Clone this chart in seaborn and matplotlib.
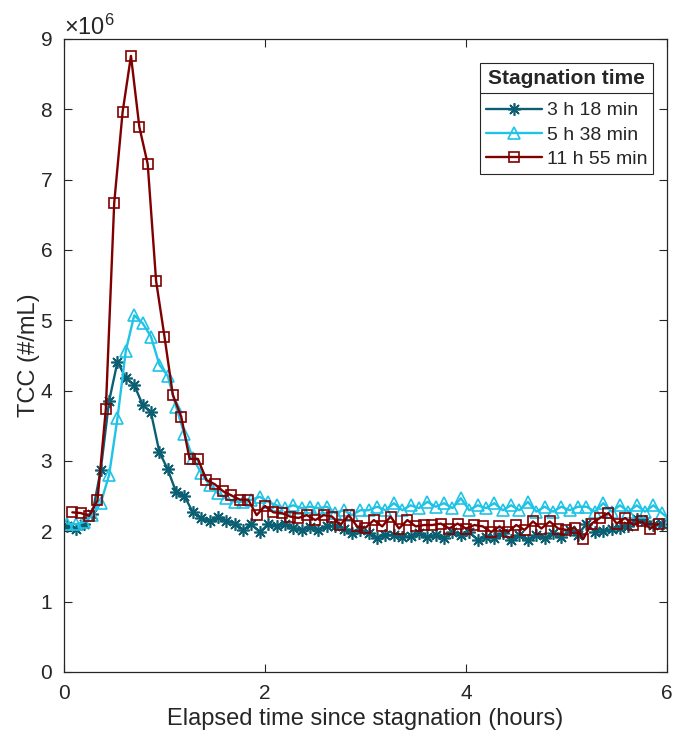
import numpy as np
import pandas as pd
import seaborn as sns
import matplotlib.pyplot as plt
from matplotlib.lines import Line2D

# TCC values in units of 1e6 cells/mL, sampled every 5 min
tcc_3h18 = [2.08, 2.03, 2.10, 2.25, 2.87, 3.85, 4.41, 4.18, 4.08, 3.80,
            3.69, 3.13, 2.88, 2.56, 2.50, 2.27, 2.19, 2.14, 2.20, 2.15,
            2.11, 2.02, 2.10, 1.99, 2.10, 2.08, 2.11, 2.05, 2.02, 2.06,
            2.02, 2.07, 2.08, 2.04, 1.98, 2.02, 1.97, 1.91, 1.95, 1.95,
            1.92, 1.93, 1.97, 1.92, 1.95, 1.90, 1.99, 1.95, 1.99, 1.88,
            1.92, 1.90, 1.97, 1.87, 1.95, 1.88, 1.95, 1.90, 1.97, 1.92,
            2.02, 1.95, 2.11, 1.99, 2.00, 2.03, 2.05, 2.08, 2.18, 2.14,
            2.09, 2.11]
tcc_5h38 = [2.11, 2.10, 2.13, 2.23, 2.40, 2.80, 3.61, 4.57, 5.07, 4.96,
            4.77, 4.37, 4.21, 3.77, 3.38, 3.04, 2.83, 2.66, 2.54, 2.47,
            2.42, 2.42, 2.45,
            2.49, 2.42, 2.37, 2.33, 2.37, 2.33, 2.35, 2.33, 2.35, 2.26,
            2.30, 2.23, 2.30, 2.30, 2.35, 2.30, 2.40, 2.30, 2.37, 2.33,
            2.42, 2.35, 2.40, 2.33, 2.47, 2.30, 2.37, 2.33, 2.40, 2.30,
            2.37, 2.30, 2.42, 2.28, 2.35, 2.28, 2.35, 2.30, 2.35, 2.35,
            2.28, 2.40, 2.28, 2.37, 2.28, 2.37, 2.28, 2.37, 2.26, 2.16]
tcc_11h55 = [2.27, 2.26, 2.22, 2.44, 3.74, 6.67, 7.96, 8.76, 7.75, 7.22,
             5.56, 4.77, 3.94, 3.63, 3.03, 3.03, 2.73, 2.67, 2.57, 2.51,
             2.45, 2.45, 2.23, 2.36, 2.27,
             2.26, 2.21, 2.19, 2.23, 2.16, 2.23, 2.21, 2.09, 2.23, 2.07, 2.05,
             2.16, 2.07, 2.21, 2.04, 2.16, 2.07, 2.09, 2.09, 2.11, 2.04,
             2.11, 2.04, 2.09,
             2.07, 1.99, 2.07, 1.99, 2.09, 2.02, 2.14, 2.04, 2.14, 2.04,
             2.02, 2.05, 1.89,
             2.11, 2.19, 2.26, 2.11, 2.19, 2.09, 2.14, 2.04, 2.11]

labels = ['3 h 18 min', '5 h 38 min', '11 h 55 min']
start_h = [0.032, 0.032, 0.083]   # first sample time of each run (hours)
step_h = 5 / 60
colors = ['#0b5f73', '#1ec3e6', '#800000']
markers = [(8, 2, 0), '^', 's']   # asterisk, open triangle, open square
msizes = [9, 9, 7.5]

# long format table for seaborn
frames = []
for lab, t0, vals in zip(labels, start_h, [tcc_3h18, tcc_5h38, tcc_11h55]):
    t = t0 + np.arange(len(vals)) * step_h
    frames.append(pd.DataFrame({'t': t, 'tcc': np.array(vals) * 1e6, 'run': lab}))
df = pd.concat(frames, ignore_index=True)

sns.set_style('white')
plt.rcParams['font.family'] = ['Liberation Sans', 'DejaVu Sans']
plt.rcParams['mathtext.default'] = 'regular'

fig = plt.figure(figsize=(6.83, 7.37), dpi=100)
ax = fig.add_axes([0.0937, 0.0882, 0.8829, 0.8589])

sns.lineplot(data=df, x='t', y='tcc', hue='run', hue_order=labels,
             palette=dict(zip(labels, colors)),
             estimator=None, sort=False, linewidth=1.7,
             legend=False, ax=ax)

# seaborn will not mix line-art and filled markers, so set them on the lines
for line, c, m, ms in zip(ax.lines, colors, markers, msizes):
    line.set_marker(m)
    line.set_markersize(ms)
    line.set_markeredgecolor(c)
    line.set_markerfacecolor('none')
    line.set_markeredgewidth(1.2)

ax.set_xlim(0, 6)
ax.set_ylim(0, 9e6)
ax.set_xticks([0, 2, 4, 6])
ax.set_yticks(np.arange(0, 10) * 1e6)
ax.ticklabel_format(axis='y', style='sci', scilimits=(6, 6), useMathText=True)
ax.yaxis.get_offset_text().set_fontsize(17)
ax.tick_params(direction='in', length=6, width=0.8, labelsize=15,
               bottom=True, left=True, top=True, right=True,
               colors='#262626', labelcolor='#262626')
ax.tick_params(axis='x', pad=9)
ax.tick_params(axis='y', pad=8)
for sp in ax.spines.values():
    sp.set_color('#262626')
    sp.set_linewidth(0.9)

ax.set_xlabel('Elapsed time since stagnation (hours)', fontsize=17, color='#262626',
              labelpad=3)
ax.set_ylabel('TCC (#/mL)', fontsize=17, color='#262626', labelpad=0)

handles = [Line2D([0], [0], color=c, marker=m, markersize=ms, markerfacecolor='none',
                  markeredgecolor=c, markeredgewidth=1.2, linewidth=1.7)
           for c, m, ms in zip(colors, markers, msizes)]
leg = ax.legend(handles, labels, title='Stagnation time', loc='upper right',
                bbox_to_anchor=(0.977, 0.962), fontsize=14,
                title_fontproperties={'weight': 'bold', 'size': 15},
                fancybox=False, framealpha=1, edgecolor='#262626',
                handlelength=2.9, handletextpad=0.25, borderpad=0.3,
                labelspacing=0.35, borderaxespad=0)
leg.get_frame().set_linewidth(0.8)
leg._legend_box.sep = 10

# separator line under the legend title, as in the original
fig.canvas.draw()
r = fig.canvas.get_renderer()
fb = leg.get_frame().get_window_extent(r)
tb = leg.get_title().get_window_extent(r)
inv = fig.transFigure.inverted()
y_sep = tb.y0 - 5
(x0, y0), (x1, _) = inv.transform([(fb.x0, y_sep), (fb.x1, y_sep)])
fig.add_artist(Line2D([x0, x1], [y0, y0], color='#262626', linewidth=0.8,
                      transform=fig.transFigure))

fig.savefig('out.png', dpi=100)
